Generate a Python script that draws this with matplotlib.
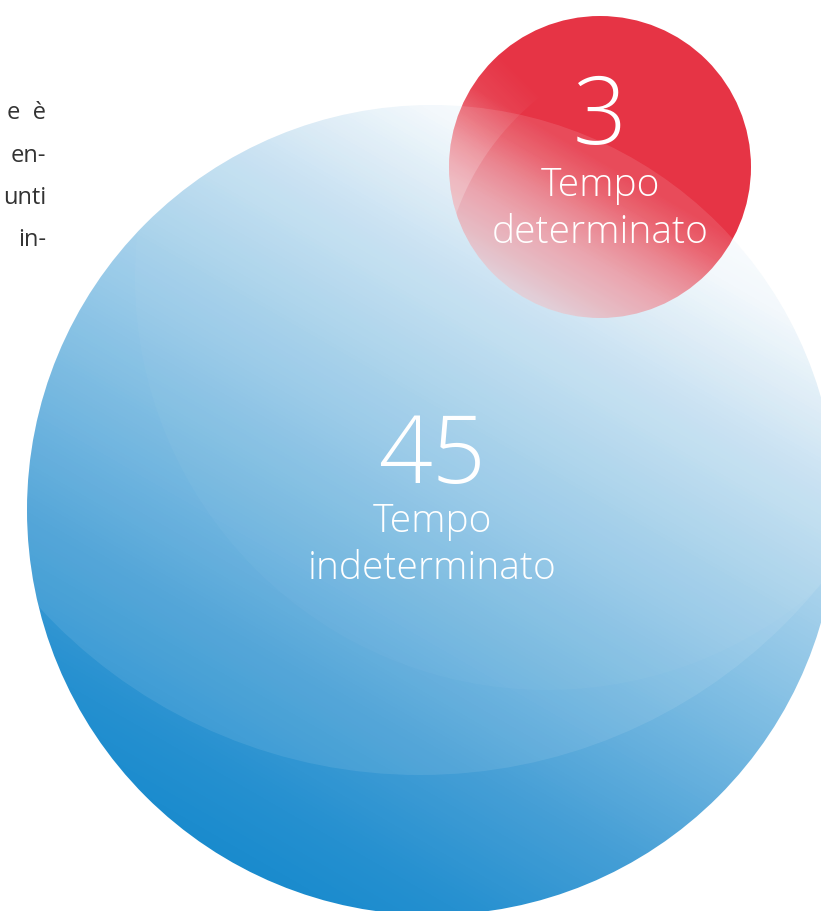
import numpy as np
import matplotlib.pyplot as plt
from matplotlib.patches import Circle
from matplotlib.colors import LinearSegmentedColormap, Normalize

W, H = 821, 911

# dati
values = [45, 3]
labels = ['Tempo\nindeterminato', 'Tempo\ndeterminato']
side_text = ['e  è', 'en-', 'unti', 'in-']

# geometria dei cerchi (in pixel)
big = dict(c=(432, 510), r=405)
small = dict(c=(600, 167), r=151)


def grad_cmap(stops, lo, hi):
    pos = [(p - lo) / (hi - lo) for p, _ in stops]
    return LinearSegmentedColormap.from_list('g', list(zip(pos, [c for _, c in stops])))


def main():
    fig = plt.figure(figsize=(W / 100, H / 100), dpi=100)
    ax = fig.add_axes([0, 0, 1, 1])
    xx, yy = np.meshgrid(np.arange(W) + 0.5, np.arange(H) + 0.5)

    # cerchio grande (blu)
    c_big = Circle(big['c'], big['r'], facecolor='none', edgecolor='none')
    ax.add_patch(c_big)
    p = 0.5 * xx - 0.866 * yy
    blue_stops = [(-700, '#0f86cb'), (-560, '#2590d0'), (-430, '#469fd6'),
                  (-230, '#82bfe4'), (0, '#c6e1f2'), (120, '#f2f8fc'), (200, '#ffffff')]
    im = ax.imshow(p, cmap=grad_cmap(blue_stops, -700, 200), norm=Normalize(-700, 200),
                   extent=(0, W, H, 0), interpolation='bilinear')
    im.set_clip_path(c_big)
    for cc, rr, a in [((420, 259), 516, 0.09), ((547, 278), 412, 0.03)]:
        hl = Circle(cc, rr, facecolor='white', edgecolor='none', alpha=a)
        ax.add_patch(hl)
        hl.set_clip_path(c_big)

    # cerchio piccolo (rosso)
    c_small = Circle(small['c'], small['r'], facecolor='none', edgecolor='none')
    ax.add_patch(c_small)
    dx, dy = xx - small['c'][0], yy - small['c'][1]
    ang = np.deg2rad(60)
    q = np.cos(ang) * dx - np.sin(ang) * dy
    red_stops = [(-160, '#ddd2dc'), (-140, '#e1c4ce'), (-115, '#e5b0ba'),
                 (-85, '#e99ca7'), (-50, '#ea7884'), (-22, '#e85260'),
                 (5, '#e63546'), (160, '#e63445')]
    im2 = ax.imshow(q, cmap=grad_cmap(red_stops, -160, 160), norm=Normalize(-160, 160),
                    extent=(0, W, H, 0), interpolation='bilinear')
    im2.set_clip_path(c_small)
    # riflesso fuori dall'arco interno, che sfuma verso l'alto a destra
    q45 = 0.707 * (dx - dy)
    d_in = np.hypot(xx - 700, yy - 300)
    glow = np.zeros((H, W, 4))
    glow[..., :3] = 1.0
    glow[..., 3] = np.clip(d_in - 258, 0, 1) * np.clip((-q45 + 10) / 110, 0, 1) * 0.22
    im3 = ax.imshow(glow, extent=(0, W, H, 0), interpolation='bilinear')
    im3.set_clip_path(c_small)

    # etichette
    font = dict(family=['Open Sans', 'DejaVu Sans'], weight='light', color='white')
    for (cx, cy), num_y, lab_y, v, lab, fs in [((432, 510), 459, 545, values[0], labels[0], 68),
                                               ((600, 167), 120, 209, values[1], labels[1], 68)]:
        ax.text(cx, num_y, str(v), ha='center', va='center', fontsize=fs, **font)
        ax.text(cx, lab_y, lab, ha='center', va='center', fontsize=28,
                linespacing=1.28, **font)

    # testo laterale tagliato
    for i, t in enumerate(side_text):
        ax.text(46, 113 + i * 42.5, t, ha='right', va='center', fontsize=17,
                family=['Open Sans', 'DejaVu Sans'], color='#333333')

    ax.set_xlim(0, W)
    ax.set_ylim(H, 0)
    ax.axis('off')
    fig.savefig('out.png', dpi=100, facecolor='white')


if __name__ == "__main__":
    main()
